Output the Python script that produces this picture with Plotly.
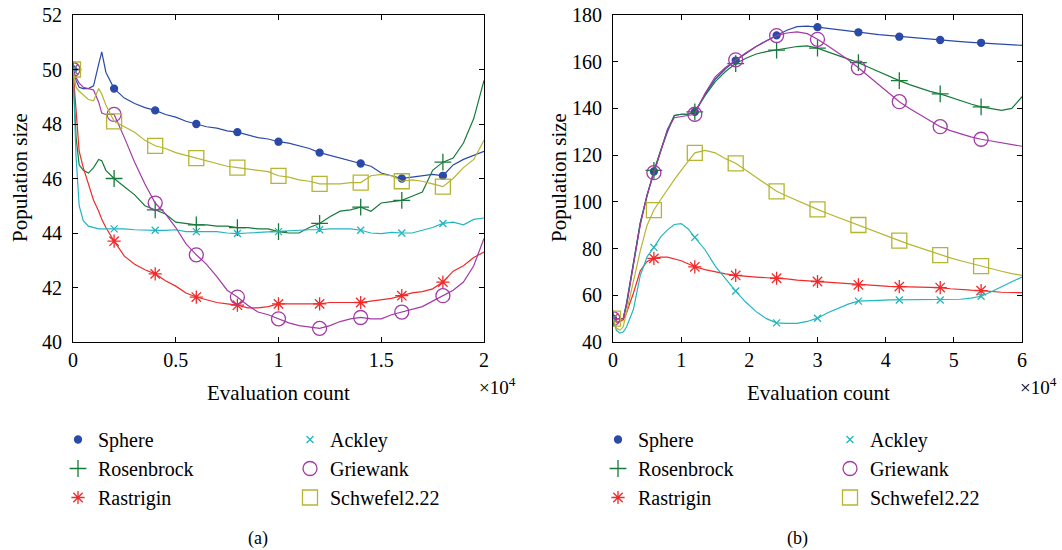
import plotly.graph_objects as go

# ---------------- data: panel (a) ----------------
XA = [0, 150, 300, 500, 750, 1000, 1250, 1400, 1600, 2000, 2500, 3000, 3500, 4000, 4500,
      5000, 5500, 6000, 6500, 7000, 7500, 8000, 8500, 9000, 9500, 10000, 10500, 11000,
      11500, 12000, 12500, 13000, 13500, 14000, 14500, 15000, 15500, 16000, 16500, 17000,
      17500, 18000, 18500, 19000, 19500, 20000]

sphere_a = [50, 49.6, 49.35, 49.3, 49.3, 49.4, 50.2, 50.65, 49.9, 49.3, 48.95, 48.75, 48.6,
            48.5, 48.35, 48.25, 48.1, 48.0, 47.9, 47.85, 47.75, 47.7, 47.6, 47.5, 47.45,
            47.35, 47.3, 47.2, 47.1, 46.95, 46.85, 46.75, 46.65, 46.55, 46.45, 46.2, 46.1,
            46.0, 46.05, 46.1, 46.15, 46.1, 46.5, 46.7, 46.85, 47.0]
rosenbrock_a = [50, 47.5, 46.5, 46.3, 46.2, 46.4, 46.7, 46.65, 46.3, 46.0, 45.7, 45.4, 45.0,
                44.85, 44.7, 44.4, 44.35, 44.3, 44.3, 44.25, 44.25, 44.2, 44.2, 44.15, 44.15,
                44.05, 44.0, 44.0, 44.2, 44.35, 44.6, 44.8, 44.85, 44.95, 44.8, 45.1, 45.15,
                45.2, 45.35, 45.5, 46.3, 46.6, 46.75, 47.3, 48.2, 49.6]
rastrigin_a = [50, 48.3, 47.0, 46.4, 45.8, 45.2, 44.8, 44.5, 44.2, 43.7, 43.15, 42.85, 42.65,
               42.5, 42.25, 42.05, 41.8, 41.65, 41.55, 41.45, 41.4, 41.35, 41.25, 41.25, 41.3,
               41.4, 41.4, 41.4, 41.4, 41.4, 41.45, 41.45, 41.45, 41.45, 41.5, 41.55, 41.6,
               41.7, 41.8, 41.85, 41.95, 42.2, 42.6, 42.8, 43.1, 43.3]
ackley_a = [50, 46.8, 45.0, 44.45, 44.25, 44.2, 44.15, 44.15, 44.15, 44.15, 44.15, 44.12, 44.1,
            44.1, 44.1, 44.12, 44.05, 44.05, 44.05, 44.05, 44.0, 43.98, 44.0, 44.02, 44.05,
            44.05, 44.08, 44.1, 44.12, 44.12, 44.15, 44.15, 44.15, 44.1, 44.0, 43.98, 44.02,
            44.0, 44.0, 44.1, 44.2, 44.35, 44.4, 44.3, 44.5, 44.55]
griewank_a = [50, 49.7, 49.5, 49.35, 49.3, 49.25, 48.8, 48.4, 48.35, 48.35, 47.5, 46.6, 45.8,
              45.1, 44.7, 44.2, 43.6, 43.2, 42.85, 42.4, 41.9, 41.65, 41.35, 41.1, 41.0,
              40.85, 40.7, 40.6, 40.55, 40.5, 40.6, 40.75, 40.85, 40.9, 40.85, 40.85, 41.0,
              41.1, 41.2, 41.3, 41.5, 41.7, 41.9, 42.2, 42.8, 43.8]
schwefel_a = [50, 49.35, 49.2, 49.05, 48.9, 48.85, 49.3, 49.1, 48.7, 48.1, 47.9, 47.7, 47.4,
              47.2, 47.1, 46.95, 46.85, 46.75, 46.65, 46.55, 46.45, 46.4, 46.35, 46.3, 46.25,
              46.1, 46.05, 45.95, 45.9, 45.8, 45.8, 45.8, 45.85, 45.85, 46.1, 46.15, 46.1,
              45.9, 45.95, 45.9, 45.8, 45.7, 46.0, 46.4, 46.7, 47.4]

# ---------------- data: panel (b) ----------------
XB = [0, 500, 1000, 1500, 2000, 3000, 4000, 5000, 6000, 7000, 8000, 9000, 10000, 11000, 12000,
      13500, 15000, 16500, 18000, 19500, 21000, 22500, 24000, 25500, 27000, 28500, 30000,
      31500, 33000, 34500, 36000, 37500, 39000, 40500, 42000, 43500, 45000, 46500, 48000,
      49500, 51000, 52500, 54000, 55500, 57000, 58500, 60000]

sphere_b = [50, 50, 50, 50, 57, 74, 91, 103, 113, 122, 130, 137, 137.5, 137.5, 138.5, 146,
            152.5, 157, 160.5, 163.5, 166.5, 169, 171.3, 173.5, 175, 175.2, 174.8, 174.2,
            173.6, 173.1, 172.6, 172.1, 171.6, 171.2, 170.7, 170.3, 169.9, 169.6, 169.3,
            168.9, 168.6, 168.3, 168.1, 167.7, 167.4, 167.2, 167]
rosenbrock_b = [50, 50, 50, 50, 56, 74, 91, 102.5, 113.5, 122, 131, 137, 137.5, 137.5, 138.5,
                145.5, 151.5, 155.8, 159.2, 161.5, 163.3, 164.3, 165, 165.8, 166.5, 166.8,
                165.8, 164.2, 162.6, 161.2, 159.6, 157.6, 155.6, 153.7, 151.9, 150.2, 148.6,
                147.3, 146.2, 144.7, 143.2, 141.9, 140.7, 139.8, 139.2, 140.0, 145]
rastrigin_b = [50, 49, 48.7, 49.5, 52.5, 61, 70.5, 74.5, 75.8, 76.3, 76.3, 75.5, 74.8, 73.5,
               72.2, 71, 70, 69.2, 68.5, 68, 67.8, 67.5, 67.3, 67, 66.5, 66.2, 65.9, 65.5,
               65.2, 64.9, 64.5, 64.2, 64, 63.8, 63.7, 63.6, 63.5, 63.4, 63.3, 62.8, 62.4,
               62.2, 62, 61.6, 61.3, 61.2, 61.1]
ackley_b = [50, 45, 43.8, 44.3, 46.5, 54, 68.5, 76.5, 80.5, 85, 88, 90.3, 90.7, 88.5, 84.8,
            79.5, 72.5, 67, 61.8, 57, 53, 50, 48.2, 48, 48, 48.8, 50.2, 52.5, 54.3, 56.2,
            57.5, 57.8, 57.8, 58, 58, 58, 58, 58, 58, 58.2, 58.3, 58.8, 59.6, 61.5, 63.8,
            65.8, 67.8]
griewank_b = [50, 50, 50, 50, 56, 73, 90, 103, 112.5, 121, 131, 136, 136.5, 136.8, 137.5,
              146.5, 153.5, 157.5, 160.8, 163.8, 166.5, 169, 171.2, 172.3, 172.8, 172, 169.6,
              166.8, 163.8, 160.8, 157.4, 153.7, 150, 146.3, 142.9, 140, 137.3, 134.6, 132.2,
              130.5, 129, 127.8, 126.8, 126, 125.3, 124.6, 123.8]
schwefel_b = [50, 46, 45, 46.5, 53, 66, 79, 90, 96.5, 101, 105.5, 109.5, 113.5, 117.5, 121,
              122, 121, 118.5, 116.5, 113.5, 110.5, 107.5, 104.5, 102.5, 100.5, 98.5, 96.8,
              95, 93.3, 91.7, 90.1, 88.4, 86.8, 85, 83.4, 81.8, 80.3, 78.7, 77.2, 76, 74.8,
              73.6, 72.5, 71.4, 70.3, 69.3, 68.5]

NAMES = ["Sphere", "Rosenbrock", "Rastrigin", "Ackley", "Griewank", "Schwefel2.22"]
SERIES_A = [sphere_a, rosenbrock_a, rastrigin_a, ackley_a, griewank_a, schwefel_a]
SERIES_B = [sphere_b, rosenbrock_b, rastrigin_b, ackley_b, griewank_b, schwefel_b]

XTICKS_A = [0, 5000, 10000, 15000, 20000]
XTICKTEXT_A = ["0", "0.5", "1", "1.5", "2"]
XTICKS_B = [0, 10000, 20000, 30000, 40000, 50000, 60000]
XTICKTEXT_B = ["0", "1", "2", "3", "4", "5", "6"]
YTICKS_A = [40, 42, 44, 46, 48, 50, 52]
YTICKS_B = [40, 60, 80, 100, 120, 140, 160, 180]
MARK_STEP_A = 2000
MARK_STEP_B = 6000

# ---------------- styles ----------------
COLORS = ["#2b4aa8", "#177a3b", "#f02a2a", "#22b6be", "#a33aa6", "#b5b532"]
SYMBOLS = ["circle", "cross-thin-open", "asterisk-open", "x-thin-open", "circle-open", "square-open"]
SIZES = [7, 12, 11, 7, 14, 15]
FONT = "Liberation Serif"

fig = go.Figure()

def add_panel(X, series, xa, ya, step, legends):
    for i, (name, ys) in enumerate(zip(NAMES, series)):
        fig.add_trace(go.Scatter(x=X, y=ys, mode="lines", xaxis=xa, yaxis=ya,
                                 line=dict(color=COLORS[i], width=1.2),
                                 showlegend=False, hoverinfo="skip"))
        mx = [x for x in X if x % step == 0 and x < X[-1]]
        my = [ys[X.index(x)] for x in mx]
        mk = dict(color=COLORS[i], symbol=SYMBOLS[i], size=SIZES[i],
                  line=dict(color=COLORS[i], width=1.3))
        fig.add_trace(go.Scatter(x=mx, y=my, mode="markers", xaxis=xa, yaxis=ya,
                                 marker=mk, name=name, showlegend=True,
                                 legend=legends[0] if i < 3 else legends[1]))

add_panel(XA, SERIES_A, "x", "y", MARK_STEP_A, ["legend", "legend2"])
add_panel(XB, SERIES_B, "x2", "y2", MARK_STEP_B, ["legend3", "legend4"])

W, H = 1062, 550
def px(x): return x / W
def py(y): return 1 - y / H

axis_common = dict(showline=True, linecolor="black", linewidth=1, mirror="ticks",
                   ticks="inside", ticklen=5, tickcolor="black", showgrid=False,
                   zeroline=False, automargin=False,
                   tickfont=dict(family=FONT, size=20, color="black"))

fig.update_layout(
    template="none",
    width=W, height=H, margin=dict(l=0, r=0, t=0, b=0, pad=0),
    paper_bgcolor="white", plot_bgcolor="white",
    font=dict(family=FONT, size=20, color="black"),
    xaxis=dict(domain=[px(73), px(484)], range=[0, 20000], tickvals=XTICKS_A,
               ticktext=XTICKTEXT_A, anchor="y", **axis_common),
    yaxis=dict(domain=[py(342), py(15)], range=[40, 52], tickvals=YTICKS_A,
               anchor="x", ticklabelstandoff=6, **axis_common),
    xaxis2=dict(domain=[px(613), px(1022)], range=[0, 60000], tickvals=XTICKS_B,
                ticktext=XTICKTEXT_B, anchor="y2", **axis_common),
    yaxis2=dict(domain=[py(342), py(15)], range=[40, 180], tickvals=YTICKS_B,
                anchor="x2", ticklabelstandoff=6, **axis_common),
)

leg_common = dict(xanchor="left", yanchor="top", bgcolor="rgba(0,0,0,0)",
                  font=dict(family=FONT, size=20, color="black"), tracegroupgap=0,
                  itemsizing="trace", orientation="v", borderwidth=0)
fig.update_layout(
    legend=dict(x=px(58), y=py(420), **leg_common),
    legend2=dict(x=px(290), y=py(420), **leg_common),
    legend3=dict(x=px(598), y=py(420), **leg_common),
    legend4=dict(x=px(830), y=py(420), **leg_common),
)

def note(x, y, text, size, angle=0, xanchor="center"):
    return dict(x=px(x), y=py(y), xref="paper", yref="paper", text=text, showarrow=False,
                xanchor=xanchor, yanchor="middle", textangle=angle,
                font=dict(family=FONT, size=size, color="black"))

ann = []
for cx, xt in [(278, 477), (818, 1018)]:
    ann.append(note(cx, 393, "Evaluation count", 21))
    ann.append(note(xt, 386, "×10<sup>4</sup>", 19, xanchor="left"))
ann.append(note(258, 538, "(a)", 18))
ann.append(note(797, 538, "(b)", 18))
for cx in [20, 559]:
    ann.append(note(cx, 178, "Population size", 21, angle=-90))
fig.update_layout(annotations=ann)

fig.write_html("out.html", config={"displayModeBar": False},
               post_script="document.body.style.margin='0px';document.body.style.overflow='hidden';")
